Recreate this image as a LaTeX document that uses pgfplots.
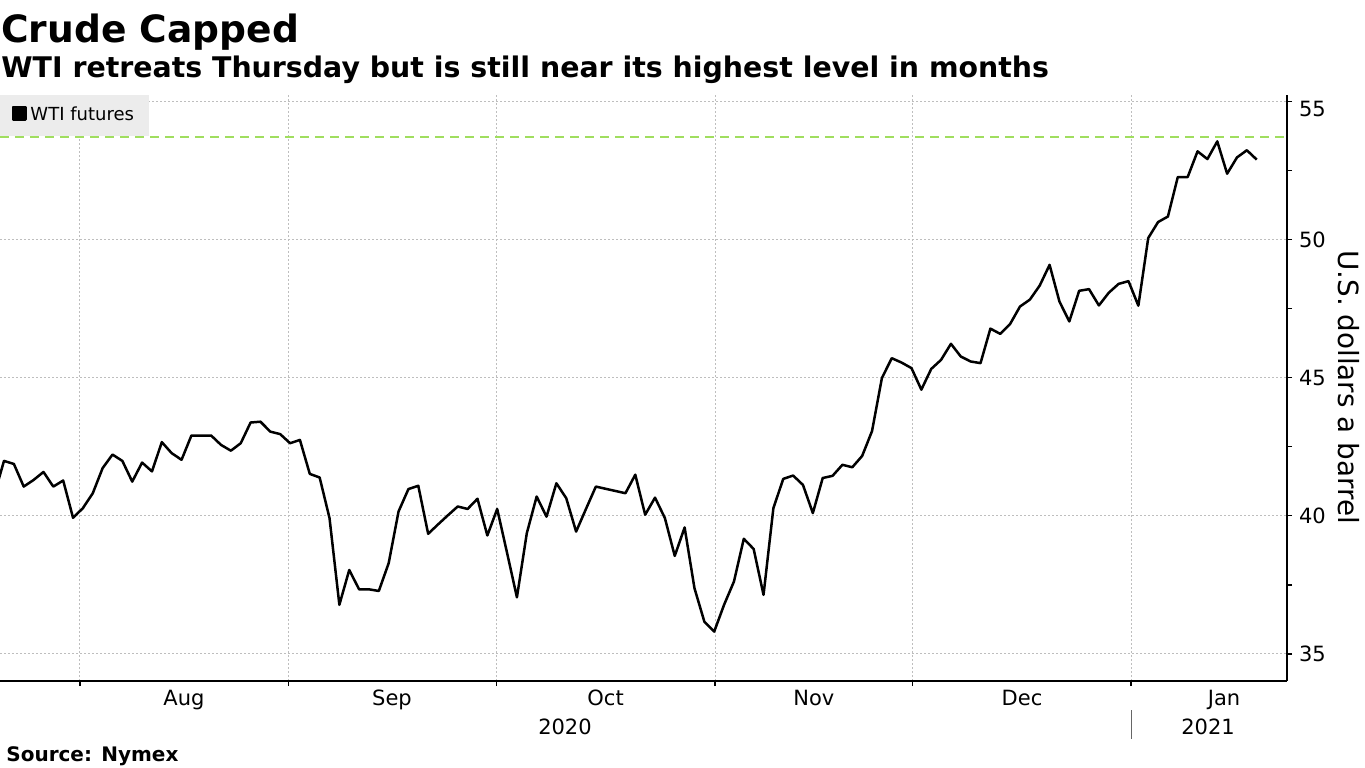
\documentclass[border=0pt]{standalone}
\usepackage{fontspec}
\setmainfont{DejaVu Sans}
\usepackage{pgfplots}
\pgfplotsset{compat=1.18}
\definecolor{gridgray}{RGB}{190,190,190}
\definecolor{limegreen}{RGB}{160,222,95}
\definecolor{legbg}{RGB}{236,236,236}
\begin{document}
\begin{tikzpicture}[x=1pt,y=1pt]
\path[use as bounding box] (0,0) rectangle (682.5,383.5);
\begin{axis}[
  at={(0pt,43pt)}, anchor=south west,
  scale only axis, width=643.5pt, height=293pt,
  xmin=-0.406, xmax=130.07, ymin=34.02, ymax=55.24,
  axis x line*=bottom, axis y line*=right,
  axis line style={black, line width=0.6pt},
  xtick={7.70,28.82,49.91,72.08,92.12,114.26},
  xticklabel=\empty,
  ytick={35,40,45,50},
  extra y ticks={55},
  extra y tick style={yticklabel style={yshift=-3.5pt}},
  minor ytick={37.5,42.5,47.5,52.5},
  tick align=outside,
  major tick length=2.5pt, minor tick length=2.5pt,
  tick style={black, line width=0.6pt},
  xmajorgrids, ymajorgrids,
  major grid style={gridgray, line width=0.5pt, dash pattern=on 1pt off 1pt},
  tick label style={font=\fontsize{10.5}{12}\selectfont},
  /pgf/number format/assume math mode=true,
  legend style={at={(0,1)}, anchor=north west, draw=none, fill=legbg,
    inner xsep=5.6pt, inner ysep=3.9pt, font=\fontsize{9}{10}\selectfont},
  legend cell align=left,
  legend image code/.code={\fill[black] (0.7pt,-2pt) rectangle (6.9pt,4.3pt);},
]
\addplot[black, line width=1.25pt, line join=round] coordinates {
(-1,40.74) (0,41.99) (1,41.88) (2,41.06) (3,41.30) (4,41.59) (5,41.06) (6,41.28)
(7,39.93) (8,40.28) (9,40.82) (10,41.73) (11,42.22) (12,41.99) (13,41.24) (14,41.93)
(15,41.61) (16,42.67) (17,42.27) (18,42.03) (19,42.91) (20,42.91) (21,42.91) (22,42.57)
(23,42.36) (24,42.63) (25,43.38) (26,43.41) (27,43.05) (28,42.96) (29,42.63) (30,42.75)
(31,41.52) (32,41.39) (33,39.92) (34,36.78) (35,38.04) (36,37.34) (37,37.34) (38,37.28)
(39,38.29) (40,40.16) (41,40.97) (42,41.09) (43,39.35) (44,39.69) (45,40.02) (46,40.34)
(47,40.25) (48,40.62) (49,39.29) (50,40.25) (51,38.66) (52,37.05) (53,39.37) (54,40.70)
(55,39.97) (56,41.18) (57,40.64) (58,39.43) (59,40.25) (60,41.06) (61,40.98) (62,40.90)
(63,40.82) (64,41.49) (65,40.04) (66,40.66) (67,39.92) (68,38.55) (69,39.58) (70,37.38)
(71,36.17) (72,35.81) (73,36.78) (74,37.62) (75,39.17) (76,38.80) (77,37.14) (78,40.28)
(79,41.34) (80,41.46) (81,41.12) (82,40.10) (83,41.37) (84,41.45) (85,41.85) (86,41.76)
(87,42.17) (88,43.07) (89,44.99) (90,45.71) (91,45.55) (92,45.35) (93,44.57) (94,45.32)
(95,45.65) (96,46.23) (97,45.77) (98,45.59) (99,45.53) (100,46.78) (101,46.59) (102,46.95)
(103,47.58) (104,47.83) (105,48.34) (106,49.09) (107,47.76) (108,47.04) (109,48.15) (110,48.21)
(111,47.62) (112,48.08) (113,48.40) (114,48.50) (115,47.61) (116,50.06) (117,50.64) (118,50.84)
(119,52.27) (120,52.27) (121,53.20) (122,52.92) (123,53.56) (124,52.39) (125,52.98) (126,53.24)
(127,52.90)
};
\addlegendentry{WTI futures}
\addplot[limegreen, line width=1.1pt, dash pattern=on 4.5pt off 3pt, forget plot] coordinates {(-0.406,53.71) (130.07,53.71)};
\end{axis}
% x-axis month and year labels
\begin{scope}[font=\fontsize{10.5}{12}\selectfont]
\node[anchor=base] at (92,30.65) {Aug};
\node[anchor=base] at (196,30.65) {Sep};
\node[anchor=base] at (302.8,30.65) {Oct};
\node[anchor=base] at (406.9,30.65) {Nov};
\node[anchor=base] at (511,30.65) {Dec};
\node[anchor=base] at (612,30.65) {Jan};
\node[anchor=base] at (282.5,16.35) {2020};
\node[anchor=base] at (604,16.35) {2021};
\end{scope}
\draw[black!60, line width=0.5pt] (565.5,28.5) -- (565.5,14);
% y label
\node[rotate=-90, font=\fontsize{13.9}{15}\selectfont] at (674.5,190) {U.S. dollars a barrel};
% titles
\node[anchor=base west, inner sep=0, font=\fontsize{18.8}{20}\selectfont\bfseries] at (0.5,362) {Crude Capped};
\node[anchor=base west, inner sep=0, font=\fontsize{14.2}{16}\selectfont\bfseries] at (0.5,344.75) {WTI retreats Thursday but is still near its highest level in months};
\node[anchor=base west, inner sep=0, font=\fontsize{10}{12}\selectfont\bfseries] at (3,2.65) {Source: Nymex};
\end{tikzpicture}
\end{document}
